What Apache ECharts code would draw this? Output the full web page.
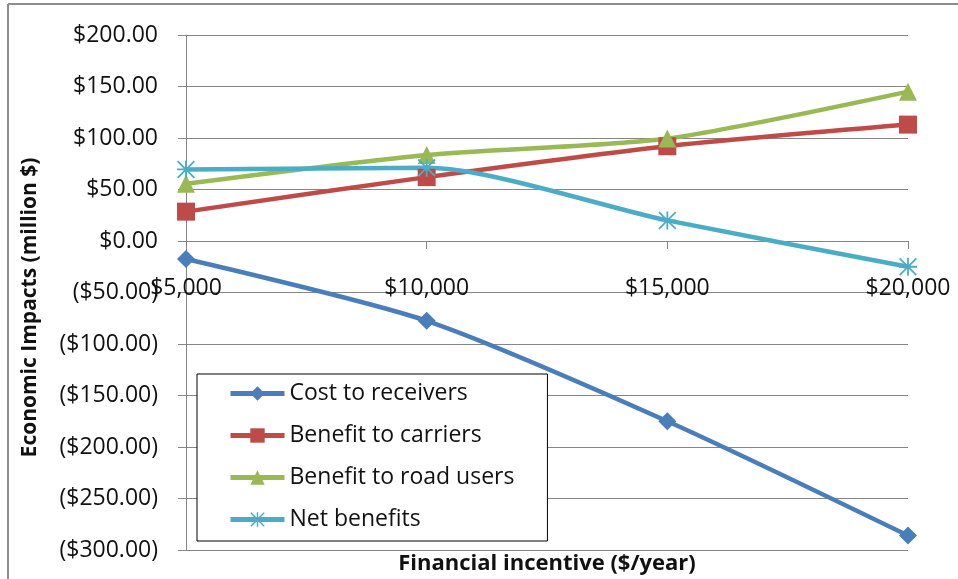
<!DOCTYPE html>
<html>
<head>
<meta charset="utf-8">
<script src="https://cdn.jsdelivr.net/npm/echarts@6/dist/echarts.min.js"></script>
<style>
  html, body { margin: 0; padding: 0; background: #fff; }
  #chart { width: 958px; height: 579px; }
</style>
</head>
<body>
<div id="chart"></div>
<script>
// categories (x) and series values (million $)
const incentives = ['$5,000', '$10,000', '$15,000', '$20,000']
const costToReceivers = [-17.5, -77.5, -175, -286]
const benefitCarriers = [28.5, 62, 92, 113]
const benefitRoadUsers = [55.5, 83.5, 99.5, 145]
const netBenefits = [69.5, 71, 20, -25]

const FONT = 'Open Sans'
// asterisk marker, same winding on all bars
const starPath = 'path://M9,0 L11,0 L11,20 L9,20 Z M0,9 L20,9 L20,11 L0,11 Z M0,1.4 L1.4,0 L20,18.6 L18.6,20 Z M18.6,0 L20,1.4 L1.4,20 L0,18.6 Z'

const myChart = echarts.init(document.getElementById('chart'))

function money(v) {
  const s = '$' + Math.abs(v).toFixed(2)
  return v < 0 ? '(' + s + ')' : s
}

function lineSeries(name, data, color, symbol, size) {
  return {
    name: name,
    type: 'line',
    data: data,
    smooth: 0.25,
    symbol: symbol,
    symbolSize: size,
    showAllSymbol: true,
    lineStyle: { color: color, width: 4.5 },
    itemStyle: { color: color },
  }
}

const option = {
  backgroundColor: '#fff',
  animation: false,
  textStyle: { fontFamily: FONT },
  grid: { left: 186, right: 50, top: 35, bottom: 29, outerBoundsMode: 'none', containLabel: false },
  legend: {
    orient: 'vertical',
    left: 197,
    top: 374,
    padding: [8, 33, 10, 31],
    itemGap: 19,
    itemWidth: 54,
    itemHeight: 18,
    borderColor: '#000',
    borderWidth: 1,
    backgroundColor: '#fff',
    lineStyle: { width: 5 },
    textStyle: { fontFamily: FONT, fontSize: 23, color: '#111' },
    data: ['Cost to receivers', 'Benefit to carriers', 'Benefit to road users', 'Net benefits'],
  },
  xAxis: {
    type: 'category',
    data: incentives,
    boundaryGap: false,
    position: 'bottom',
    // the axis sits on the $0 line: move it up from the grid bottom
    offset: -309,
    name: 'Financial incentive ($/year)',
    nameLocation: 'middle',
    nameGap: 312,
    nameTextStyle: { fontFamily: FONT, fontWeight: 'bold', fontSize: 22, color: '#111' },
    axisLine: { onZero: false, lineStyle: { color: '#868686', width: 1 } },
    axisTick: { show: true, length: 8, alignWithLabel: true, lineStyle: { color: '#868686' } },
    axisLabel: { margin: 36, fontFamily: FONT, fontSize: 23, color: '#111' },
    splitLine: { show: false },
  },
  yAxis: {
    type: 'value',
    min: -300,
    max: 200,
    interval: 50,
    name: 'Economic Impacts (million $)',
    nameLocation: 'middle',
    nameGap: 145,
    nameRotate: 90,
    nameTextStyle: { fontFamily: FONT, fontWeight: 'bold', fontSize: 21, color: '#111', padding: [0, 30, 0, 0] },
    axisLine: { show: true, lineStyle: { color: '#868686', width: 1 } },
    axisTick: { show: true, length: 8, lineStyle: { color: '#868686' } },
    axisLabel: { margin: 28, fontFamily: FONT, fontSize: 23, color: '#111', formatter: money },
    splitLine: { show: true, lineStyle: { color: '#868686', width: 1 } },
  },
  graphic: [
    { type: 'line', shape: { x1: 8, y1: 4, x2: 958, y2: 4 }, style: { stroke: '#8c8c8c', lineWidth: 2 } },
    { type: 'line', shape: { x1: 8, y1: 4, x2: 8, y2: 579 }, style: { stroke: '#8c8c8c', lineWidth: 2 } },
  ],
  series: [
    lineSeries('Cost to receivers', costToReceivers, '#4A7EBB', 'diamond', 18),
    lineSeries('Benefit to carriers', benefitCarriers, '#BE4B48', 'rect', 18),
    lineSeries('Benefit to road users', benefitRoadUsers, '#98B954', 'triangle', 18),
    lineSeries('Net benefits', netBenefits, '#4BACC6', starPath, 18),
  ],
}

option && myChart.setOption(option)
</script>
</body>
</html>
